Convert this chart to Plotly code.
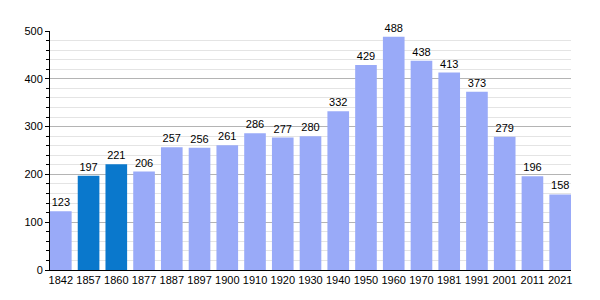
import plotly.graph_objects as go

years = ["1842","1857","1860","1877","1887","1897","1900","1910","1920","1930","1940","1950","1960","1970","1981","1991","2001","2011","2021"]
population = [123,197,221,206,257,256,261,286,277,280,332,429,488,438,413,373,279,196,158]
highlight = ["1857","1860"]

colors = ["#0a78cc" if y in highlight else "#99aaf8" for y in years]
gap = 0.22
half = (1 - gap) / 2

fig = go.Figure(go.Bar(
    x=years, y=population, marker_color=colors, marker_line_width=0,
    text=[str(v) for v in population], textposition="outside", cliponaxis=False,
    textfont=dict(size=11, color="black", family="Liberation Sans, Arial, sans-serif"),
))
fig.update_layout(
    width=600, height=300, margin=dict(l=50, r=29, t=31, b=30),
    plot_bgcolor="white", paper_bgcolor="white", bargap=gap, showlegend=False,
    font=dict(family="Liberation Sans, Arial, sans-serif", size=11, color="black"),
)
fig.update_xaxes(type="category", range=[-half, len(years) - 1 + half],
                 showline=True, linecolor="black", linewidth=1,
                 ticks="", tickfont=dict(size=11), showgrid=False)
fig.update_yaxes(range=[0, 500], dtick=100, showline=True, linecolor="black", linewidth=1,
                 ticks="outside", ticklen=4, tickcolor="black",
                 gridcolor="#b4b4b4", gridwidth=1, zeroline=False,
                 minor=dict(dtick=20, showgrid=True, gridcolor="#e4e4e4", ticks="outside",
                            ticklen=3, tickcolor="black"),
                 tickfont=dict(size=11))
fig.write_html("out.html")
